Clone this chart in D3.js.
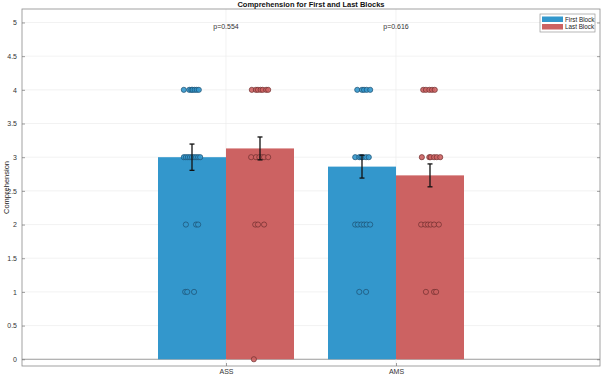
<!DOCTYPE html>
<html>
<head>
<meta charset="utf-8">
<script src="https://cdn.jsdelivr.net/npm/d3@7"></script>
<style>
  body { margin: 0; background: #fff; }
  svg { font-family: "Liberation Sans", Arial, sans-serif; display: block; }
</style>
</head>
<body>
<div id="chart"></div>
<script>
const categories = ["ASS", "AMS"];
const seriesNames = ["First Block", "Last Block"];
const firstMeans = [3.0, 2.86];
const lastMeans = [3.13, 2.73];
const firstErr = [0.195, 0.17];
const lastErr = [0.17, 0.17];
const pValues = ["p=0.554", "p=0.616"];
const yTicks = [0, 0.5, 1, 1.5, 2, 2.5, 3, 3.5, 4, 4.5, 5];

// individual scores, jitter is % of bar width
const assFirstScores = [4, 4, 4, 4, 4, 4, 4, 3, 3, 3, 3, 3, 3, 3, 3, 3, 2, 2, 2, 1, 1, 1];
const assFirstJitter = [-12, -4, -1, 1, 4, 7, 10, -12, -9, -6, -3, 0, 3, 6, 9, 12, -9, 6, 9, -10, -7, 3];
const assLastScores = [4, 4, 4, 4, 4, 4, 4, 3, 3, 3, 3, 3, 3, 2, 2, 2, 0];
const assLastJitter = [-12, -6, -3, 1, 4, 9, 12, -13, -6, -1, 3, 6, 12, -7, -3, 6, -9];
const amsFirstScores = [4, 4, 4, 4, 4, 3, 3, 3, 3, 3, 3, 2, 2, 2, 2, 2, 2, 1, 1];
const amsFirstJitter = [-7, 0, 3, 7, 12, -10, -4, -1, 1, 6, 10, -10, -6, -1, 3, 7, 12, -4, 6];
const amsLastScores = [4, 4, 4, 4, 4, 3, 3, 3, 3, 3, 3, 2, 2, 2, 2, 2, 2, 1, 1, 1];
const amsLastJitter = [-10, -6, -1, 3, 7, -12, -1, 1, 6, 10, 15, -13, -7, -3, 1, 6, 13, -6, 6, 9];

const blue = "#3397cc", red = "#cc6262";
const blueEdge = "#1d4f70", redEdge = "#6e2e2e";

const width = 602, height = 375;
const barW = 0.4;

const svg = d3.select("#chart").append("svg")
    .attr("width", width).attr("height", height);

const x = d3.scaleLinear().domain([-0.2, 3.2]).range([22, 600]);
const y = d3.scaleLinear().domain([-0.1, 5.2]).range([366, 9]);

// grid
svg.append("g").selectAll("line").data(yTicks).enter().append("line")
    .attr("x1", x(-0.2)).attr("x2", x(3.2))
    .attr("y1", d => y(d)).attr("y2", d => y(d))
    .attr("stroke", d => d === 0 ? "#9a9a9a" : "#ececec").attr("stroke-width", d => d === 0 ? 1 : 0.7);
svg.append("g").selectAll("line").data(categories).enter().append("line")
    .attr("x1", (d, i) => x(i + 1)).attr("x2", (d, i) => x(i + 1))
    .attr("y1", y(5.2)).attr("y2", y(-0.1))
    .attr("stroke", "#ececec").attr("stroke-width", 0.7);

// bars
const bars = [];
categories.forEach((c, i) => {
    bars.push({ x0: i + 1 - barW, mean: firstMeans[i], err: firstErr[i], color: blue });
    bars.push({ x0: i + 1, mean: lastMeans[i], err: lastErr[i], color: red });
});
svg.append("g").selectAll("rect").data(bars).enter().append("rect")
    .attr("x", d => x(d.x0))
    .attr("width", x(barW) - x(0))
    .attr("y", d => y(d.mean))
    .attr("height", d => y(0) - y(d.mean))
    .attr("fill", d => d.color);

// points
const groups = [
    { c: 1 - barW / 2, s: assFirstScores, j: assFirstJitter, fill: blue, edge: blueEdge },
    { c: 1 + barW / 2, s: assLastScores, j: assLastJitter, fill: red, edge: redEdge },
    { c: 2 - barW / 2, s: amsFirstScores, j: amsFirstJitter, fill: blue, edge: blueEdge },
    { c: 2 + barW / 2, s: amsLastScores, j: amsLastJitter, fill: red, edge: redEdge }
];
groups.forEach(g => {
    svg.append("g").selectAll("circle").data(g.s).enter().append("circle")
        .attr("cx", (d, k) => x(g.c + g.j[k] / 100 * barW))
        .attr("cy", d => y(d))
        .attr("r", 2.6)
        .attr("fill", g.fill)
        .attr("fill-opacity", 0.9)
        .attr("stroke", g.edge)
        .attr("stroke-width", 0.7);
});

// error bars
const eb = svg.append("g").attr("stroke", "#111").attr("stroke-width", 1.3);
bars.forEach(d => {
    const cx = x(d.x0 + barW / 2);
    eb.append("line").attr("x1", cx).attr("x2", cx).attr("y1", y(d.mean - d.err)).attr("y2", y(d.mean + d.err));
    eb.append("line").attr("x1", cx - 2.5).attr("x2", cx + 2.5).attr("y1", y(d.mean - d.err)).attr("y2", y(d.mean - d.err));
    eb.append("line").attr("x1", cx - 2.5).attr("x2", cx + 2.5).attr("y1", y(d.mean + d.err)).attr("y2", y(d.mean + d.err));
});

// axes box
svg.append("rect")
    .attr("x", x(-0.2)).attr("y", y(5.2))
    .attr("width", x(3.2) - x(-0.2)).attr("height", y(-0.1) - y(5.2))
    .attr("fill", "none").attr("stroke", "#8a8a8a").attr("stroke-width", 0.8);

const yAxis = svg.append("g").attr("transform", `translate(${x(-0.2)},0)`)
    .call(d3.axisLeft(y).tickValues(yTicks).tickSize(-3).tickPadding(5).tickFormat(d3.format("")));
const yAxisR = svg.append("g").attr("transform", `translate(${x(3.2)},0)`)
    .call(d3.axisRight(y).tickValues(yTicks).tickSize(-3).tickFormat(""));
const xAxis = svg.append("g").attr("transform", `translate(0,${y(-0.1)})`)
    .call(d3.axisBottom(x).tickValues([1, 2]).tickSize(-3).tickPadding(3).tickFormat((d, i) => categories[i]));
[yAxis, yAxisR, xAxis].forEach(a => {
    a.select(".domain").remove();
    a.selectAll(".tick line").attr("stroke", "#777").attr("stroke-width", 0.7);
    a.selectAll("text").attr("fill", "#333").style("font-size", "7px");
});

// p-values
svg.append("g").selectAll("text").data(pValues).enter().append("text")
    .attr("x", (d, i) => x(i + 1)).attr("y", y(4.9))
    .attr("text-anchor", "middle")
    .attr("fill", "#333").style("font-size", "7px")
    .text(d => d);

// title
svg.append("text")
    .attr("x", (x(-0.2) + x(3.2)) / 2).attr("y", 7)
    .attr("text-anchor", "middle")
    .style("font-size", "7.5px").style("font-weight", "bold")
    .attr("fill", "#111")
    .text("Comprehension for First and Last Blocks");

// y label
svg.append("text")
    .attr("transform", `translate(9,${(y(5.2) + y(-0.1)) / 2}) rotate(-90)`)
    .attr("text-anchor", "middle")
    .style("font-size", "7.5px").attr("fill", "#222")
    .text("Comprehension");

// legend
const lg = svg.append("g").attr("transform", "translate(540,14)");
lg.append("rect").attr("width", 55).attr("height", 18)
    .attr("fill", "#fff").attr("stroke", "#999").attr("stroke-width", 0.7);
[blue, red].forEach((c, i) => {
    lg.append("rect").attr("x", 2).attr("y", 2.5 + i * 7.5).attr("width", 21).attr("height", 5.5).attr("fill", c);
    lg.append("text").attr("x", 25).attr("y", 7.5 + i * 7.5)
        .style("font-size", "6.3px").attr("fill", "#222")
        .text(seriesNames[i]);
});
</script>
</body>
</html>
